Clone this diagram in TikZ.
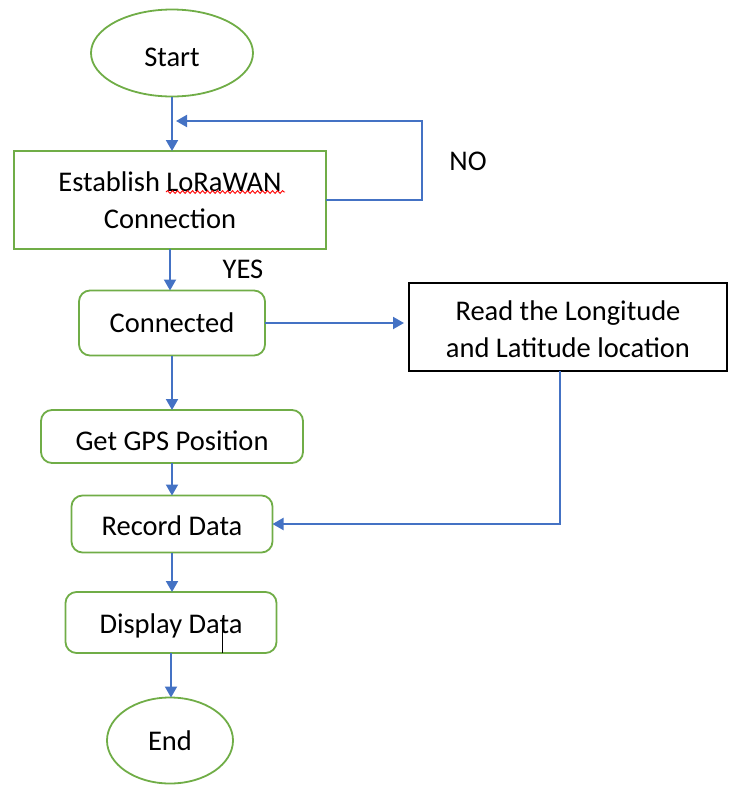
\documentclass[tikz,border=0pt]{standalone}
\usepackage{fontspec}
\setmainfont{Carlito}
\usetikzlibrary{shapes.geometric,arrows.meta,decorations.pathmorphing}
\definecolor{okgreen}{HTML}{70AD47}
\definecolor{okblue}{HTML}{4472C4}
\newcommand{\dn}[2]{\raisebox{-#1}[\height][\depth]{#2}}
\newcommand{\dnt}[2]{\raisebox{-#1}[\height][\depth]{\begin{tabular}{@{}c@{}}#2\end{tabular}}}
\begin{document}
\begin{tikzpicture}[x=1pt,y=-1pt,
  every node/.style={font=\fontsize{28.5}{37}\selectfont, align=center, inner sep=0pt, outer sep=0pt},
  term/.style={ellipse, draw=okgreen, line width=1.8pt},
  gbox/.style={rectangle, draw=okgreen, line width=1.8pt},
  rbox/.style={rectangle, rounded corners=11pt, draw=okgreen, line width=1.8pt},
  kbox/.style={rectangle, draw=black, line width=1.6pt},
  arr/.style={draw=okblue, line width=2pt, -{Triangle[width=12pt,length=11pt]}, okblue},
  lbl/.style={font=\fontsize{28.5}{34}\selectfont}
]
\useasboundingbox (0,0) rectangle (732,785);

\node[term, minimum width=162, minimum height=87] (start) at (172,53) {\dn{4pt}{Start}};
\node[gbox, minimum width=312, minimum height=98] (est) at (170,200) {Establish LoRaWAN\\Connection};
\node[rbox, minimum width=186, minimum height=65] (conn) at (172,323) {Connected};
\node[kbox, minimum width=318, minimum height=88] (read) at (568,327) {\dnt{5pt}{Read the Longitude\\and Latitude location}};
\node[rbox, minimum width=262, minimum height=53] (gps) at (172,436.5) {\dn{4pt}{Get GPS Position}};
\node[rbox, minimum width=201, minimum height=57] (rec) at (172,524) {\dn{2pt}{Record Data}};
\node[rbox, minimum width=211, minimum height=61] (disp) at (171,622.5) {\dn{3pt}{Display Data}};
\node[term, minimum width=126, minimum height=86] (end) at (170,740.5) {End};

\node[lbl] (no) at (468,161) {NO};
\node[lbl] (yes) at (243,269) {YES};

% spell-check underline
\draw[red, line width=0.9pt, decorate, decoration={snake, amplitude=1.4pt, segment length=5pt}] (166,192) -- (285,192);
% cursor mark
\draw[black, line width=1pt] (222,618) -- (222,653);

\coordinate (loopc) at (422,121);
\coordinate (merge) at (176,121);

\draw[arr] (start.south) -- (start.south |- est.north);
\draw[arr] (est.east) -| (loopc) -- (merge);
\draw[arr] (est.south) -- (est.south |- conn.north);
\draw[arr, shorten >=5pt] (conn.east) -- (conn.east -| read.west);
\draw[arr] (conn.south) -- (conn.south |- gps.north);
\draw[arr] ([xshift=-8pt]read.south) |- (rec.east);
\draw[arr] (gps.south) -- (gps.south |- rec.north);
\draw[arr] (rec.south) -- (rec.south |- disp.north);
\draw[arr] (disp.south) -- (disp.south |- end.north);
\end{tikzpicture}
\end{document}
